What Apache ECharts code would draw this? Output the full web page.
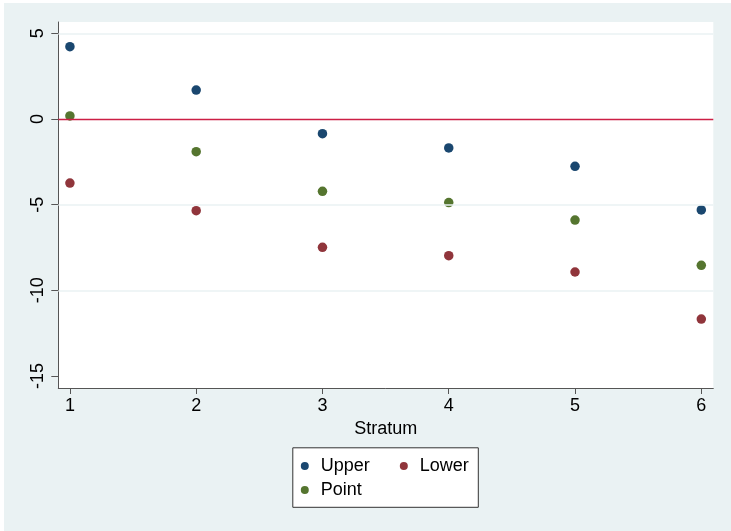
<!DOCTYPE html>
<html>
<head>
<meta charset="utf-8">
<script src="https://cdn.jsdelivr.net/npm/echarts@6/dist/echarts.min.js"></script>
<style>
html,body{margin:0;padding:0;background:#ffffff;width:731px;height:531px;overflow:hidden;}
#chart{position:absolute;left:4px;top:3px;width:727px;height:528px;}
</style>
</head>
<body>
<div id="chart"></div>
<script>
const strata = [1, 2, 3, 4, 5, 6];
const upper = [4.22, 1.69, -0.86, -1.69, -2.76, -5.31];
const lower = [-3.74, -5.35, -7.49, -7.98, -8.93, -11.68];
const point = [0.18, -1.91, -4.22, -4.88, -5.90, -8.54];
const yTicks = [-15, -10, -5, 0, 5];
const gridValues = [-10, -5, 5];
const refValue = 0;

const FONT = 'Liberation Sans, Arial, Helvetica, sans-serif';
const pairs = arr => strata.map((s, i) => [s, arr[i]]);

const chart = echarts.init(document.getElementById('chart'), null, {renderer: 'canvas'});
chart.setOption({
  animation: false,
  backgroundColor: '#eaf2f3',
  textStyle: {fontFamily: FONT},
  grid: {
    left: 54.3, top: 19, right: 17.7, bottom: 143,
    show: true, backgroundColor: '#ffffff', borderWidth: 0
  },
  xAxis: {
    type: 'value', min: 0.908, max: 6.095,
    name: 'Stratum', nameLocation: 'middle', nameGap: 29,
    nameTextStyle: {fontSize: 18, color: '#000', fontFamily: FONT},
    axisLine: {show: true, onZero: false, lineStyle: {color: '#555', width: 1}},
    axisTick: {show: true, length: 6, customValues: strata, lineStyle: {color: '#555'}},
    axisLabel: {customValues: strata, fontSize: 18, color: '#000', margin: 9, fontFamily: FONT},
    splitLine: {show: false}
  },
  yAxis: {
    type: 'value', min: -15.7, max: 5.66,
    axisLine: {show: true, onZero: false, lineStyle: {color: '#555', width: 1}},
    axisTick: {show: true, length: 7, customValues: yTicks, lineStyle: {color: '#555'}},
    axisLabel: {customValues: yTicks, fontSize: 18, color: '#000', rotate: 90, margin: 11, fontFamily: FONT},
    splitLine: {show: false}
  },
  graphic: [{
    type: 'rect', z: 1,
    shape: {x: 288.8, y: 444.8, width: 185.5, height: 59.5},
    style: {fill: '#ffffff', stroke: '#333333', lineWidth: 1}
  }],
  legend: [{
    data: ['Upper', 'Lower'], z: 5,
    left: 296.8, top: 453, padding: 0, itemGap: 30,
    orient: 'horizontal', icon: 'circle', itemWidth: 8, itemHeight: 8,
    textStyle: {fontSize: 18, color: '#000', lineHeight: 20, padding: [0, 0, 0, 7], fontFamily: FONT}
  }, {
    data: ['Point'], z: 5,
    left: 296.8, top: 477, padding: 0,
    orient: 'horizontal', icon: 'circle', itemWidth: 8, itemHeight: 8,
    textStyle: {fontSize: 18, color: '#000', lineHeight: 20, padding: [0, 0, 0, 7], fontFamily: FONT}
  }],
  series: [{
    name: 'grid', type: 'scatter', data: [], z: 1, silent: true,
    markLine: {
      silent: true, symbol: 'none', label: {show: false},
      lineStyle: {color: '#eaf2f3', width: 1.5, type: 'solid'},
      data: gridValues.map(v => ({yAxis: v}))
    }
  }, {
    name: 'ref', type: 'scatter', data: [], z: 2, silent: true,
    markLine: {
      silent: true, symbol: 'none', label: {show: false},
      lineStyle: {color: '#cc1f45', width: 1.4, type: 'solid'},
      data: [{yAxis: refValue}]
    }
  }, {
    name: 'Upper', type: 'scatter', symbolSize: 9.5, z: 3,
    itemStyle: {color: '#1a476f', opacity: 1}, data: pairs(upper)
  }, {
    name: 'Lower', type: 'scatter', symbolSize: 9.5, z: 3,
    itemStyle: {color: '#90353b', opacity: 1}, data: pairs(lower)
  }, {
    name: 'Point', type: 'scatter', symbolSize: 9.5, z: 3,
    itemStyle: {color: '#55752f', opacity: 1}, data: pairs(point)
  }]
});
</script>
</body>
</html>
